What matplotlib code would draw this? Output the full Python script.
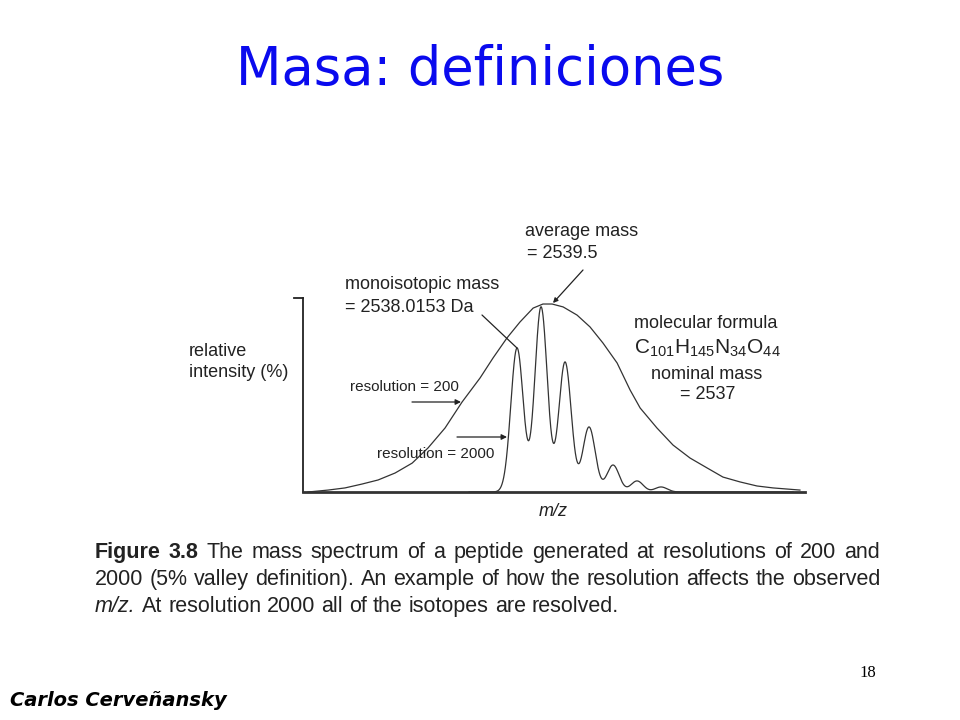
import numpy as np
import matplotlib
matplotlib.use("Agg")
import matplotlib.pyplot as plt

# resolution 2000: resolved isotope peaks (m/z, relative height)
iso_mz = [2538, 2539, 2540, 2541, 2542, 2543, 2544]
iso_height = [0.742, 0.954, 0.670, 0.335, 0.139, 0.057, 0.026]
iso_sigma = 0.26  # peak width in Da

# resolution 200: unresolved envelope
env_mz = [2529.29, 2530.13, 2530.83, 2531.54, 2532.21, 2532.92, 2533.63,
          2534.29, 2535.00, 2535.71, 2536.46, 2537.00, 2537.58, 2538.12,
          2538.67, 2539.08, 2539.46, 2539.92, 2540.50, 2541.04, 2541.58,
          2542.17, 2542.71, 2543.13, 2543.83, 2544.50, 2545.21, 2545.92,
          2546.58, 2547.29, 2548.00, 2548.67, 2549.79]
env_height = [0.000, 0.010, 0.021, 0.041, 0.062, 0.098, 0.149,
              0.227, 0.330, 0.464, 0.588, 0.691, 0.794, 0.876,
              0.948, 0.969, 0.969, 0.954, 0.912, 0.851, 0.768,
              0.665, 0.526, 0.433, 0.330, 0.242, 0.175, 0.124,
              0.077, 0.052, 0.031, 0.021, 0.010]

# caption lines as (text, weight, style) runs; last line is not justified
caption_lines = [
    [('Figure 3.8', 'bold', 'normal'),
     ('The mass spectrum of a peptide generated at resolutions of 200 and', 'normal', 'normal')],
    [('2000 (5% valley definition). An example of how the resolution affects the observed', 'normal', 'normal')],
    [('m/z.', 'normal', 'italic'),
     ('At resolution 2000 all of the isotopes are resolved.', 'normal', 'normal')],
]

W, H = 960, 720
sans = 'Liberation Sans'
ink = '#222222'


def fp(x, y):
    # pixel (from top-left) -> figure fraction
    return x / W, 1 - y / H


fig = plt.figure(figsize=(9.6, 7.2), dpi=100)
fig.patch.set_facecolor('white')
renderer = fig.canvas.get_renderer()

# title
fig.text(*fp(480, 70), 'Masa: definiciones', ha='center', va='center',
         fontsize=38, color='#0a0aee', family='DejaVu Sans')

# spectrum axes
ax = fig.add_axes([303 / W, 1 - 492 / H, (805 - 303) / W, (492 - 298) / H])
ax.set_xlim(2529.08, 2550.0)
ax.set_ylim(0, 1)
ax.set_xticks([])
ax.set_yticks([])
for s in ['top', 'right']:
    ax.spines[s].set_visible(False)
ax.spines['left'].set_linewidth(1.3)
ax.spines['left'].set_color(ink)
ax.spines['bottom'].set_linewidth(2.0)
ax.spines['bottom'].set_color('#333333')
ax.patch.set_alpha(0)
ax.plot([-0.018, 0], [1, 1], transform=ax.transAxes, clip_on=False,
        color=ink, lw=1.3)

ax.plot(env_mz, env_height, color='#333333', lw=0.9)

mz = np.linspace(2536.0, 2549.5, 1500)
spec = np.zeros_like(mz)
for m, h in zip(iso_mz, iso_height):
    spec += h * np.exp(-(mz - m) ** 2 / (2 * iso_sigma ** 2))
ax.plot(mz, spec, color='#333333', lw=0.9)

txt = dict(fontsize=13, color=ink, family=sans, va='center')

fig.text(*fp(189, 351), 'relative', **txt)
fig.text(*fp(189, 372), 'intensity (%)', **txt)

fig.text(*fp(525, 232), 'average mass', **txt)
fig.text(*fp(527, 253), '= 2539.5', **txt)
ax.annotate('', xy=fp(553, 303), xytext=fp(583, 270),
            xycoords='figure fraction', textcoords='figure fraction',
            arrowprops=dict(arrowstyle='-|>', color=ink, lw=0.9,
                            mutation_scale=7, shrinkA=0, shrinkB=0))

fig.text(*fp(345, 285), 'monoisotopic mass', **txt)
fig.text(*fp(345, 307), '= 2538.0153 Da', **txt)
ax.annotate('', xy=fp(517, 348), xytext=fp(482, 315),
            xycoords='figure fraction', textcoords='figure fraction',
            arrowprops=dict(arrowstyle='-', color=ink, lw=0.9,
                            shrinkA=0, shrinkB=0))

ctr = dict(txt, ha='center')
fig.text(*fp(706, 323), 'molecular formula', **ctr)
fig.text(*fp(707, 348), r'$\mathregular{C_{101}H_{145}N_{34}O_{44}}$',
         **dict(ctr, fontsize=15))
fig.text(*fp(707, 374), 'nominal mass', **ctr)
fig.text(*fp(708, 394), '= 2537', **ctr)

small = dict(txt, fontsize=11)
fig.text(*fp(350, 387), 'resolution = 200', **small)
fig.text(*fp(377, 454), 'resolution = 2000', **small)
for x0, x1, y in [(412, 461, 402), (457, 507, 437)]:
    ax.annotate('', xy=fp(x1, y), xytext=fp(x0, y),
                xycoords='figure fraction', textcoords='figure fraction',
                arrowprops=dict(arrowstyle='-|>', color=ink, lw=0.9,
                                mutation_scale=8, shrinkA=0, shrinkB=0))

fig.text(*fp(553, 512), 'm/z', style='italic', ha='center', va='center',
         fontsize=13, color=ink, family=sans)


# caption: justified between x=95 and x=880 like the printed figure
def width_of(s, size, wt='normal', st='normal'):
    t = fig.text(0, 0, s, fontsize=size, family=sans, weight=wt, style=st)
    w = t.get_window_extent(renderer).width
    t.remove()
    return w


cap_left, cap_right = 95, 880
cap_size = 10 * (cap_right - cap_left) / width_of(caption_lines[1][0][0], 10)
space = width_of('a a', cap_size) - width_of('aa', cap_size)

for i, line in enumerate(caption_lines):
    words = [(w, wt, st) for s, wt, st in line for w in s.split(' ')]
    widths = [width_of(w, cap_size, wt, st) for w, wt, st in words]
    if i < len(caption_lines) - 1:
        gap = (cap_right - cap_left - sum(widths)) / (len(words) - 1)
    else:
        gap = space
    x = cap_left
    for (w, wt, st), wd in zip(words, widths):
        fig.text(*fp(x, 558 + 27 * i), w, fontsize=cap_size, family=sans,
                 weight=wt, style=st, color=ink, va='baseline')
        x += wd + gap

# footer
fig.text(*fp(10, 700), 'Carlos Cerveñansky', fontsize=14, weight='bold',
         style='italic', family='DejaVu Sans', va='center', color='black')
fig.text(*fp(868, 673), '18', fontsize=12, family='Liberation Serif',
         ha='center', va='center', color='black')

fig.savefig('out.png', dpi=100, facecolor='white')
